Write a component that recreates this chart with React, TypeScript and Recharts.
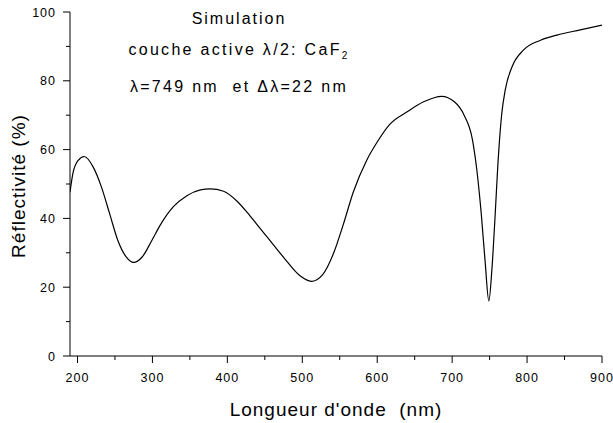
import { LineChart, Line, XAxis, YAxis } from "recharts"

// wavelength (nm) and simulated reflectivity (%)
const wavelengths = [
  190, 194, 201, 209, 221, 232, 243, 254, 265, 275, 286, 299, 310, 328, 346, 364, 377, 395, 413, 430,
  444, 453, 475, 497, 512, 527, 542, 555, 568, 586, 600, 617, 640, 662, 686, 703, 716, 727, 733, 739,
  744, 749, 753, 757, 761, 766, 771, 780, 795, 818, 840, 871, 900,
]
const reflectivity = [
  47.6, 53.2, 56.9, 58.0, 54.9, 49.1, 41.3, 33.5, 28.8, 27.2, 28.7, 33.5, 37.9, 43.4, 46.6, 48.3, 48.6, 47.9, 45.0, 40.8,
  37.0, 34.6, 28.7, 23.3, 21.7, 23.6, 30.0, 38.4, 47.6, 56.9, 62.2, 67.4, 71.0, 73.9, 75.5, 73.9, 70.0, 63.0, 54.0, 41.0,
  27.5, 16.0, 25.0, 39.4, 55.5, 70.0, 77.5, 84.1, 88.9, 91.8, 93.3, 94.8, 96.2,
]
const xTicks = [200, 250, 300, 350, 400, 450, 500, 550, 600, 650, 700, 750, 800, 850, 900]
const yTicks = [0, 10, 20, 30, 40, 50, 60, 70, 80, 90, 100]

const data = wavelengths.map((nm, i) => ({ nm, r: reflectivity[i] }))

const FONT = "'Liberation Sans', Arial, sans-serif"

function XTick({ x, y, payload }: any) {
  const major = payload.value % 100 === 0
  return (
    <g>
      <line x1={x} x2={x} y1={y} y2={y + (major ? 7 : 4)} stroke="#000" />
      {major && (
        <text x={x} y={y + 25.5} textAnchor="middle" fontSize={12.5} fontFamily={FONT} letterSpacing={1} fill="#000">
          {payload.value}
        </text>
      )}
    </g>
  )
}

function YTick({ x, y, payload }: any) {
  const major = payload.value % 20 === 0
  return (
    <g>
      <line x1={x - (major ? 7 : 4)} x2={x} y1={y} y2={y} stroke="#000" />
      {major && (
        <text x={x - 14} y={y + 4.5} textAnchor="end" fontSize={12.5} fontFamily={FONT} letterSpacing={1} fill="#000">
          {payload.value}
        </text>
      )}
    </g>
  )
}

export default function App() {
  return (
    <div style={{ position: "absolute", left: 0, top: 0, width: 613, height: 423, background: "#fff" }}>
      <LineChart width={613} height={423} data={data} margin={{ top: 12, right: 11, left: 0, bottom: 0 }}>
        <XAxis
          dataKey="nm"
          type="number"
          domain={[190, 900]}
          ticks={xTicks}
          allowDataOverflow
          height={67}
          tickSize={0}
          tickMargin={0}
          tickLine={false}
          axisLine={{ stroke: "#000" }}
          tick={<XTick />}
          interval={0}
        />
        <YAxis
          type="number"
          domain={[0, 100]}
          ticks={yTicks}
          width={70}
          tickSize={0}
          tickMargin={0}
          tickLine={false}
          axisLine={{ stroke: "#000" }}
          tick={<YTick />}
          interval={0}
        />
        <Line
          type="monotone"
          dataKey="r"
          stroke="#000"
          strokeWidth={1.2}
          dot={false}
          isAnimationActive={false}
        />
      </LineChart>
      <svg
        width={613}
        height={423}
        style={{ position: "absolute", left: 0, top: 0, pointerEvents: "none" }}
        fontFamily={FONT}
        fill="#000"
      >
        <text x={239} y={24} textAnchor="middle" fontSize={16} letterSpacing={2}>
          Simulation
        </text>
        <text x={239} y={55} textAnchor="middle" fontSize={16} letterSpacing={2.3}>
          couche active λ/2: CaF
          <tspan dy={4} fontSize={10}>
            2
          </tspan>
        </text>
        <text x={239} y={91.5} textAnchor="middle" fontSize={16} letterSpacing={2.3} style={{ whiteSpace: "pre" }}>
          {"λ=749 nm  et Δλ=22 nm"}
        </text>
        <text x={336} y={416} textAnchor="middle" fontSize={19} letterSpacing={1} style={{ whiteSpace: "pre" }}>
          {"Longueur d'onde  (nm)"}
        </text>
        <text
          x={25}
          y={186}
          textAnchor="middle"
          fontSize={19}
          letterSpacing={1}
          transform="rotate(-90, 25, 186)"
        >
          Réflectivité (%)
        </text>
      </svg>
    </div>
  )
}
